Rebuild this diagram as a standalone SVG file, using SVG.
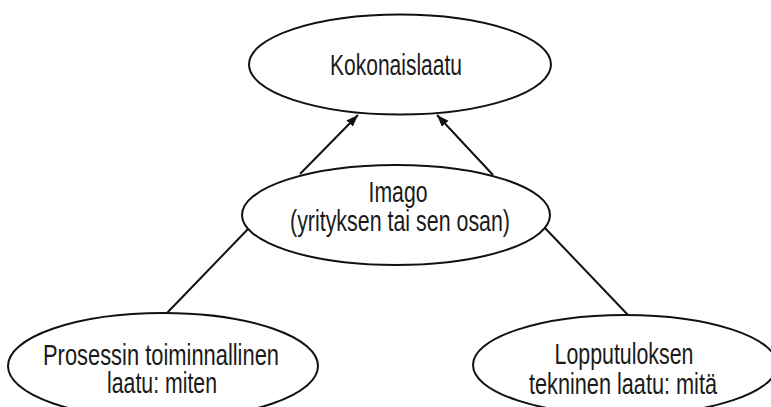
<svg xmlns="http://www.w3.org/2000/svg" width="771" height="407" viewBox="0 0 771 407">
<style>
.node ellipse{fill:#fff;stroke:#111;stroke-width:2}
.node text{font-family:"Liberation Sans",Arial,sans-serif;font-size:30px;fill:#1a1a1a;text-anchor:middle}
.conn line{stroke:#111;stroke-width:2}
</style>
<defs>
<marker id="arr" markerUnits="userSpaceOnUse" markerWidth="14" markerHeight="10" refX="12" refY="4.5" orient="auto">
<path d="M0,0 L12,4.5 L0,9 z" fill="#111"/>
</marker>
</defs>
<rect width="771" height="407" fill="#fff"/>
<g id="connectors" class="conn">
<line x1="300" y1="174" x2="358" y2="115" marker-end="url(#arr)"/>
<line x1="493" y1="175" x2="437" y2="115" marker-end="url(#arr)"/>
<line x1="248" y1="229" x2="167" y2="313"/>
<line x1="545" y1="228" x2="628" y2="315"/>
</g>
<g id="kokonaislaatu" class="node">
<ellipse cx="400" cy="64.5" rx="151" ry="50"/>
<text x="396" y="75" textLength="132" lengthAdjust="spacingAndGlyphs">Kokonaislaatu</text>
</g>
<g id="imago" class="node">
<ellipse cx="396" cy="215" rx="154" ry="50"/>
<text x="398" y="202" textLength="59" lengthAdjust="spacingAndGlyphs">Imago</text>
<text x="400" y="231" textLength="220" lengthAdjust="spacingAndGlyphs">(yrityksen tai sen osan)</text>
</g>
<g id="prosessi" class="node">
<ellipse cx="163" cy="366" rx="155" ry="53"/>
<text x="161" y="365" textLength="236" lengthAdjust="spacingAndGlyphs">Prosessin toiminnallinen</text>
<text x="162" y="393" textLength="110" lengthAdjust="spacingAndGlyphs">laatu: miten</text>
</g>
<g id="lopputulos" class="node">
<ellipse cx="625" cy="365" rx="152" ry="50"/>
<text x="624" y="364" textLength="139" lengthAdjust="spacingAndGlyphs">Lopputuloksen</text>
<text x="623" y="394" textLength="188" lengthAdjust="spacingAndGlyphs">tekninen laatu: mitä</text>
</g>
</svg>
